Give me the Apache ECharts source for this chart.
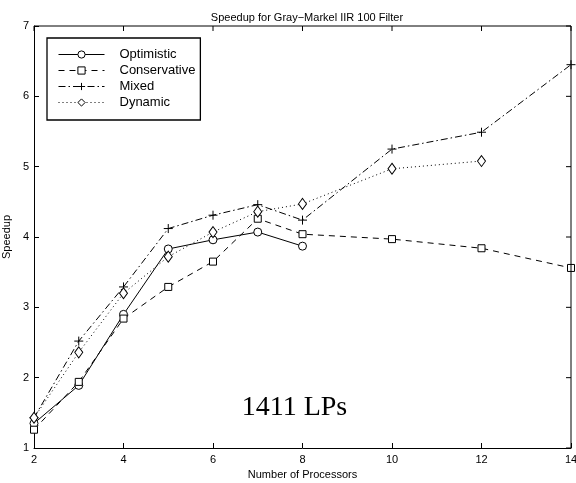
<!DOCTYPE html>
<html>
<head>
<meta charset="utf-8">
<script src="https://cdn.jsdelivr.net/npm/echarts@6/dist/echarts.min.js"></script>
<style>
html,body{margin:0;padding:0;background:#fff;}
#c{width:576px;height:483px;}
</style>
</head>
<body>
<div id="c"></div>
<script>
const titleText = 'Speedup for Gray\u2212Markel IIR 100 Filter';
const xName = 'Number of Processors';
const yName = 'Speedup';
const annotation = '1411 LPs';
const seriesNames = ['Optimistic', 'Conservative', 'Mixed', 'Dynamic'];

const optimisticX = [2, 3, 4, 5, 6, 7, 8];
const optimisticY = [1.35, 1.89, 2.90, 3.83, 3.96, 4.07, 3.87];
const conservativeX = [2, 3, 4, 5, 6, 7, 8, 10, 12, 14];
const conservativeY = [1.26, 1.94, 2.84, 3.29, 3.65, 4.26, 4.04, 3.97, 3.84, 3.56];
const mixedX = [2, 3, 4, 5, 6, 7, 8, 10, 12, 14];
const mixedY = [1.43, 2.52, 3.29, 4.12, 4.31, 4.46, 4.24, 5.25, 5.49, 6.45];
const dynamicX = [2, 3, 4, 5, 6, 7, 8, 10, 12];
const dynamicY = [1.43, 2.36, 3.20, 3.72, 4.07, 4.36, 4.47, 4.97, 5.08];

const xTicks = [2, 4, 6, 8, 10, 12, 14];
const yTicks = [1, 2, 3, 4, 5, 6, 7];

const pairs = (xs, ys) => xs.map((x, i) => [x, ys[i]]);

const font = 'Liberation Sans, Arial, Helvetica, sans-serif';
const plusPath = 'path://M0,5L10,5M5,0L5,10';

function mkSeries(name, data, dash, symbol, size, fill) {
  return {
    name: name,
    type: 'line',
    data: data,
    symbol: symbol,
    symbolSize: size,
    showSymbol: true,
    animation: false,
    lineStyle: {color: '#000', width: 1, type: dash},
    itemStyle: {color: fill, borderColor: '#000', borderWidth: 1},
    emphasis: {disabled: true},
    z: 3
  };
}

const chart = echarts.init(document.getElementById('c'), null, {renderer: 'canvas'});
const grid = {left: 34, right: 5, top: 26, bottom: 35, containLabel: false, outerBoundsMode: 'none'};
chart.setOption({
  animation: false,
  backgroundColor: '#fff',
  title: {
    text: titleText, left: 302, top: 7, textAlign: 'center',
    textStyle: {fontFamily: font, fontSize: 11, fontWeight: 'normal', color: '#000'}
  },
  legend: {
    orient: 'vertical', left: 47, top: 38,
    data: seriesNames,
    backgroundColor: '#fff',
    borderColor: '#000', borderWidth: 1.3, borderRadius: 0,
    padding: [9, 5, 10, 11],
    itemWidth: 46, itemHeight: 9, itemGap: 1,
    lineStyle: {width: 1},
    itemStyle: {borderWidth: 1},
    textStyle: {fontFamily: font, fontSize: 13, color: '#000', lineHeight: 15, padding: [0, 0, 0, 10]},
    selectedMode: false
  },
  grid: grid,
  xAxis: {
    type: 'value', min: xTicks[0], max: xTicks[xTicks.length - 1], interval: 2,
    name: xName, nameLocation: 'middle', nameGap: 21,
    nameTextStyle: {fontFamily: font, fontSize: 11, color: '#000'},
    axisLine: {onZero: false, lineStyle: {color: '#000', width: 1}},
    axisTick: {inside: true, length: 5, lineStyle: {color: '#000'}},
    axisLabel: {fontFamily: font, fontSize: 11, color: '#000', margin: 6},
    splitLine: {show: false}
  },
  yAxis: {
    type: 'value', min: yTicks[0], max: yTicks[yTicks.length - 1], interval: 1,
    name: yName, nameLocation: 'middle', nameGap: 19, nameRotate: 90,
    nameTextStyle: {fontFamily: font, fontSize: 11, color: '#000'},
    axisLine: {onZero: false, lineStyle: {color: '#000', width: 1}},
    axisTick: {inside: true, length: 5, lineStyle: {color: '#000'}},
    axisLabel: {fontFamily: font, fontSize: 11, color: '#000', margin: 5},
    splitLine: {show: false}
  },
  graphic: [],
  series: [
    mkSeries(seriesNames[0], pairs(optimisticX, optimisticY), 'solid', 'circle', 8, '#fff'),
    mkSeries(seriesNames[1], pairs(conservativeX, conservativeY), [6, 5], 'rect', 7, '#fff'),
    mkSeries(seriesNames[2], pairs(mixedX, mixedY), [7, 3, 1.5, 3], plusPath, 9, 'none'),
    mkSeries(seriesNames[3], pairs(dynamicX, dynamicY), [1, 3], 'diamond', [8, 11], '#fff')
  ]
});

// mirrored box (top and right axis lines with inward ticks) and annotation
const gx0 = chart.convertToPixel({gridIndex: 0}, [xTicks[0], yTicks[0]]);
const gx1 = chart.convertToPixel({gridIndex: 0}, [xTicks[xTicks.length - 1], yTicks[yTicks.length - 1]]);
const g = [];
g.push({type: 'line', shape: {x1: gx0[0], y1: gx1[1], x2: gx1[0], y2: gx1[1]}, style: {stroke: '#000', lineWidth: 1}, z: 5});
g.push({type: 'line', shape: {x1: gx1[0], y1: gx1[1], x2: gx1[0], y2: gx0[1]}, style: {stroke: '#000', lineWidth: 1}, z: 5});
xTicks.forEach(v => {
  const p = chart.convertToPixel({gridIndex: 0}, [v, yTicks[yTicks.length - 1]]);
  g.push({type: 'line', shape: {x1: p[0], y1: p[1], x2: p[0], y2: p[1] + 5}, style: {stroke: '#000', lineWidth: 1}, z: 5});
});
yTicks.forEach(v => {
  const p = chart.convertToPixel({gridIndex: 0}, [xTicks[xTicks.length - 1], v]);
  g.push({type: 'line', shape: {x1: p[0], y1: p[1], x2: p[0] - 5, y2: p[1]}, style: {stroke: '#000', lineWidth: 1}, z: 5});
});
const ap = chart.convertToPixel({gridIndex: 0}, [7.82, 1.58]);
g.push({type: 'text', x: ap[0], y: ap[1], style: {text: annotation, font: '28px "Liberation Serif", "DejaVu Serif", serif', fill: '#000', textAlign: 'center', textVerticalAlign: 'middle'}, z: 6});
chart.setOption({graphic: g});
</script>
</body>
</html>
